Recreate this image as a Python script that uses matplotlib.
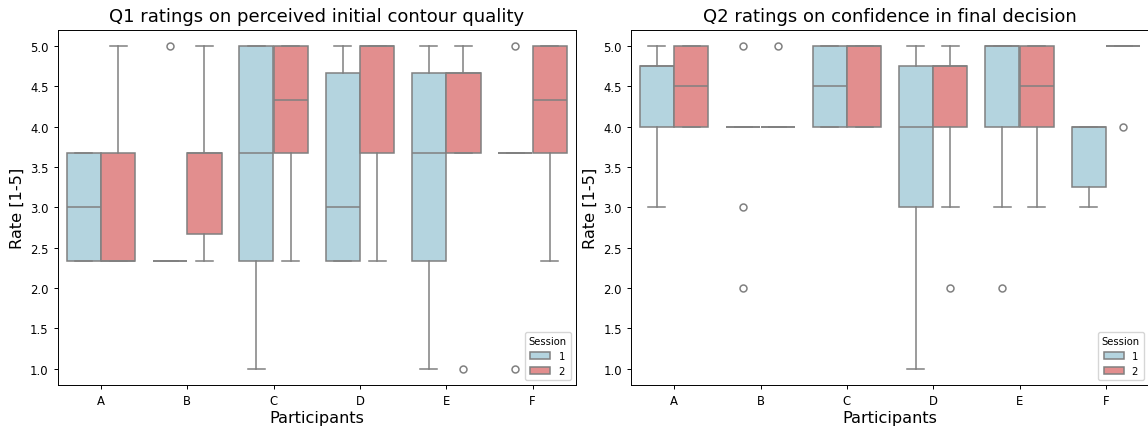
import matplotlib
matplotlib.use("Agg")
import matplotlib.pyplot as plt
import matplotlib.patches as mpatches
import colorsys
import matplotlib.colors as mcolors

participants = ["A", "B", "C", "D", "E", "F"]
sessions = ["1", "2"]

# ---- Q1: box statistics per participant ----
q1_s1_q1 = [2.333, 2.333, 2.333, 2.333, 2.333, 3.667]
q1_s1_med = [3.0, 2.333, 3.667, 3.0, 3.667, 3.667]
q1_s1_q3 = [3.667, 2.333, 5.0, 4.667, 4.667, 3.667]
q1_s1_lo = [2.333, 2.333, 1.0, 2.333, 1.0, 3.667]
q1_s1_hi = [3.667, 2.333, 5.0, 5.0, 5.0, 3.667]
q1_s1_fl = [[], [5.0], [], [], [], [5.0, 1.0]]

q1_s2_q1 = [2.333, 2.667, 3.667, 3.667, 3.667, 3.667]
q1_s2_med = [2.333, 3.667, 4.333, 5.0, 4.667, 4.333]
q1_s2_q3 = [3.667, 3.667, 5.0, 5.0, 4.667, 5.0]
q1_s2_lo = [2.333, 2.333, 2.333, 2.333, 3.667, 2.333]
q1_s2_hi = [5.0, 5.0, 5.0, 5.0, 5.0, 5.0]
q1_s2_fl = [[], [], [], [], [1.0], []]

# ---- Q2 ----
q2_s1_q1 = [4.0, 4.0, 4.0, 3.0, 4.0, 3.25]
q2_s1_med = [4.75, 4.0, 4.5, 4.0, 5.0, 4.0]
q2_s1_q3 = [4.75, 4.0, 5.0, 4.75, 5.0, 4.0]
q2_s1_lo = [3.0, 4.0, 4.0, 1.0, 3.0, 3.0]
q2_s1_hi = [5.0, 4.0, 5.0, 5.0, 5.0, 4.0]
q2_s1_fl = [[], [5.0, 3.0, 2.0], [], [], [2.0], []]

q2_s2_q1 = [4.0, 4.0, 4.0, 4.0, 4.0, 5.0]
q2_s2_med = [4.5, 4.0, 5.0, 4.75, 4.5, 5.0]
q2_s2_q3 = [5.0, 4.0, 5.0, 4.75, 5.0, 5.0]
q2_s2_lo = [4.0, 4.0, 4.0, 3.0, 3.0, 5.0]
q2_s2_hi = [5.0, 4.0, 5.0, 5.0, 5.0, 5.0]
q2_s2_fl = [[], [5.0], [], [2.0], [], [4.0]]

titles = ["Q1 ratings on perceived initial contour quality",
          "Q2 ratings on confidence in final decision"]
yticks = [1.0, 1.5, 2.0, 2.5, 3.0, 3.5, 4.0, 4.5, 5.0]


def desat(c, prop=0.75):
    r, g, b = mcolors.to_rgb(c)
    h, l, s = colorsys.rgb_to_hls(r, g, b)
    return colorsys.hls_to_rgb(h, l, s * prop)


colors = [desat("lightblue"), desat("lightcoral")]
linecolor = "#808080"
lw = 1.1


def stats(q1, med, q3, lo, hi, fl):
    return [dict(q1=a, med=b, q3=c, whislo=d, whishi=e, fliers=f)
            for a, b, c, d, e, f in zip(q1, med, q3, lo, hi, fl)]


data = [
    [stats(q1_s1_q1, q1_s1_med, q1_s1_q3, q1_s1_lo, q1_s1_hi, q1_s1_fl),
     stats(q1_s2_q1, q1_s2_med, q1_s2_q3, q1_s2_lo, q1_s2_hi, q1_s2_fl)],
    [stats(q2_s1_q1, q2_s1_med, q2_s1_q3, q2_s1_lo, q2_s1_hi, q2_s1_fl),
     stats(q2_s2_q1, q2_s2_med, q2_s2_q3, q2_s2_lo, q2_s2_hi, q2_s2_fl)],
]

fig = plt.figure(figsize=(11.48, 4.27), dpi=100)
axes = [fig.add_axes([57.7 / 1148, 41.3 / 427, 518 / 1148, 355 / 427]),
        fig.add_axes([631 / 1148, 41.3 / 427, 518 / 1148, 355 / 427])]

box_w = 0.395
for ax, qdata, title in zip(axes, data, titles):
    for si, sdata in enumerate(qdata):
        pos = [i - 0.2 + si * 0.4 for i in range(len(participants))]
        ax.bxp(sdata, positions=pos, widths=box_w, patch_artist=True,
               manage_ticks=False,
               boxprops=dict(facecolor=colors[si], edgecolor=linecolor, linewidth=lw),
               medianprops=dict(color=linecolor, linewidth=lw),
               whiskerprops=dict(color=linecolor, linewidth=lw),
               capprops=dict(color=linecolor, linewidth=lw),
               flierprops=dict(marker="o", markerfacecolor="none",
                               markeredgecolor=linecolor, markersize=5,
                               markeredgewidth=lw),
               capwidths=box_w / 2)
    ax.set_xlim(-0.5, len(participants) - 0.5)
    ax.set_ylim(0.8, 5.2)
    ax.set_xticks(range(len(participants)))
    ax.set_xticklabels(participants)
    ax.set_yticks(yticks)
    ax.set_yticklabels([f"{v:.1f}" for v in yticks])
    ax.tick_params(labelsize=8.4, length=3, width=0.7)
    ax.set_title(title, fontsize=13)
    ax.set_xlabel("Participants", fontsize=11.6, labelpad=2)
    ax.set_ylabel("Rate [1-5]", fontsize=11.6)
    for sp in ax.spines.values():
        sp.set_linewidth(0.7)
    handles = [mpatches.Patch(facecolor=colors[i], edgecolor=linecolor,
                              linewidth=lw, label=sessions[i]) for i in range(2)]
    ax.legend(handles=handles, title="Session", loc="lower right",
              fontsize=7.2, title_fontsize=7.2)

fig.savefig("out.png", dpi=100)
